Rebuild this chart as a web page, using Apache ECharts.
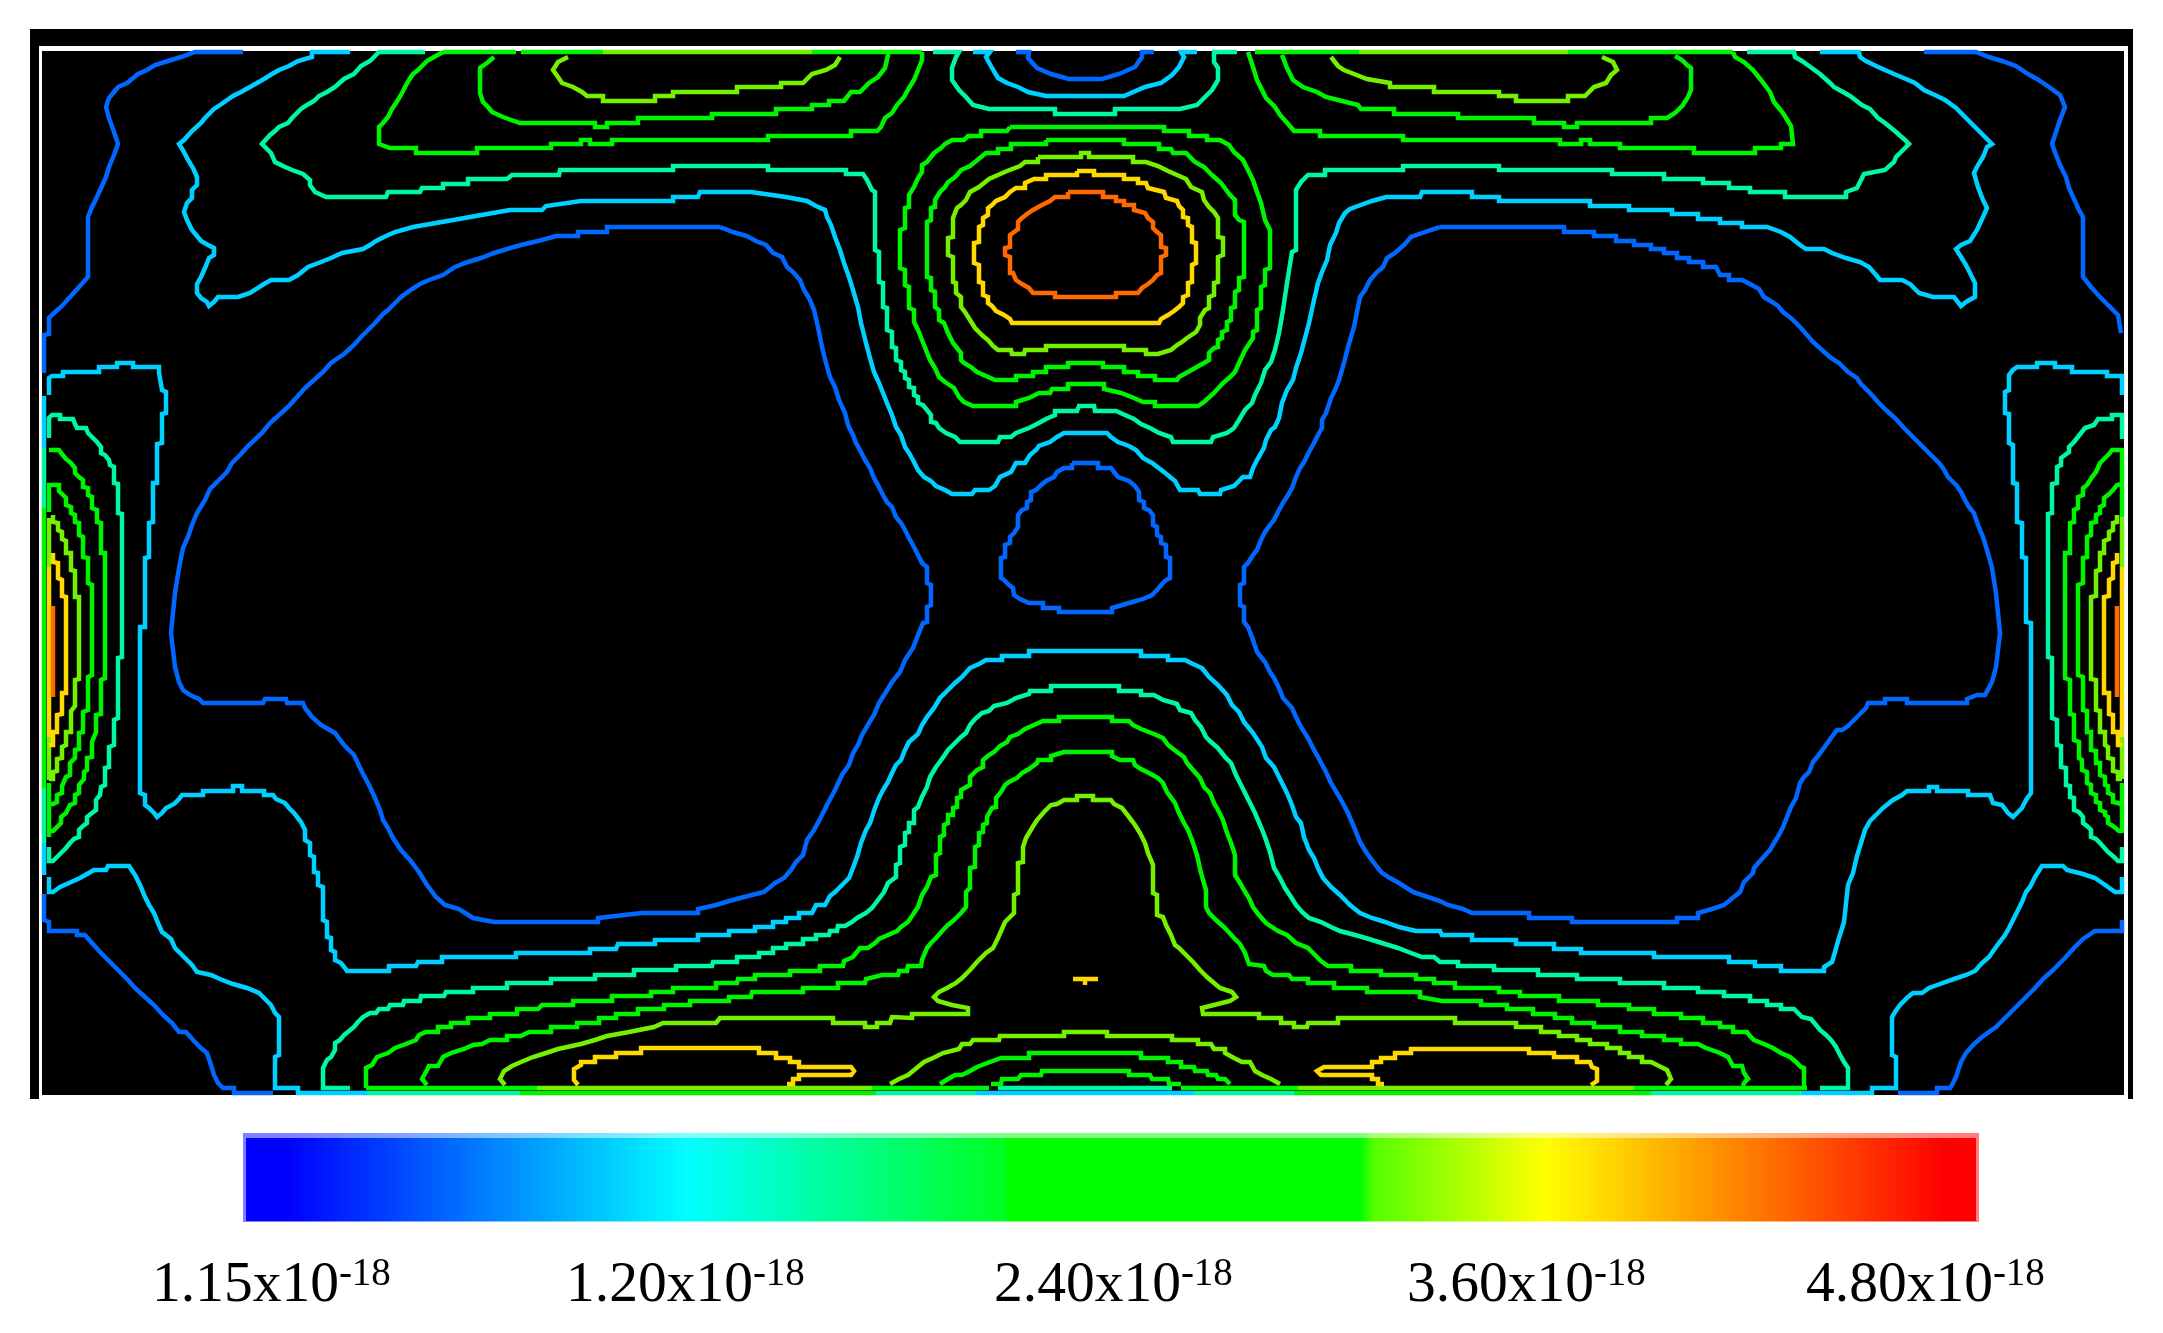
<!DOCTYPE html>
<html><head><meta charset="utf-8">
<style>html,body{margin:0;padding:0;background:#fff}#c{width:2163px;height:1333px}</style>
<script src="https://cdn.jsdelivr.net/npm/echarts@6/dist/echarts.min.js"></script>
</head><body><div id="c"></div>
<script>
const tickLabels = ['1.15','1.20','2.40','3.60','4.80'];
const tickExponent = '-18';
const fieldX = [42, 2124];
const fieldY = [51, 1095];

const levelColors = {blue:'#0068ff', cyan:'#00d0ff', teal:'#00f8a4', green:'#00f400', lime:'#74f000', yellow:'#ffd800', orange:'#ff6a00'};
const barStops = [[0,'#0000ff'],[0.024,'#0000ff'],[0.255,'#00ffff'],[0.439,'#00ff20'],[0.44,'#00ff00'],[0.644,'#00ff00'],[0.652,'#55ff00'],[0.751,'#ffff00'],[0.982,'#ff0000'],[1,'#ff0000']];

const blueContours = [
[[243,52],[195,52],[181,57],[168,61],[155,65],[147,70],[138,74],[127,83],[118,87],[114,92],[109,98],[106,107],[109,118],[114,132],[118,144],[114,155],[109,167],[106,177],[101,188],[96,199],[92,207],[88,217],[88,277],[79,287],[70,297],[62,306],[53,314],[49,318],[49,334],[44,335],[44,373]],
[[1924,52],[1976,52],[1989,57],[2002,61],[2016,66],[2028,74],[2037,79],[2049,87],[2060,95],[2065,107],[2060,120],[2056,132],[2052,144],[2056,155],[2061,167],[2066,177],[2069,188],[2074,199],[2079,210],[2083,217],[2083,277],[2091,287],[2100,297],[2108,305],[2118,315],[2121,333]],
[[1016,52],[1029,52],[1028,58],[1037,68],[1051,74],[1069,79],[1102,79],[1119,74],[1135,67],[1142,57],[1142,52],[1154,52]],
[[1072,463],[1098,463],[1098,468],[1111,468],[1114,472],[1118,477],[1129,481],[1135,486],[1139,492],[1139,500],[1144,502],[1144,508],[1149,510],[1153,515],[1153,525],[1157,527],[1157,535],[1161,537],[1161,543],[1166,545],[1166,557],[1170,558],[1170,578],[1166,580],[1161,585],[1157,590],[1152,595],[1143,599],[1129,603],[1112,608],[1112,612],[1059,612],[1059,608],[1043,608],[1043,603],[1029,603],[1020,599],[1014,595],[1013,588],[1009,585],[1004,580],[1001,578],[1001,558],[1005,557],[1005,545],[1010,543],[1010,537],[1014,533],[1018,527],[1018,515],[1022,510],[1027,508],[1027,502],[1031,500],[1031,492],[1036,490],[1040,486],[1046,481],[1054,477],[1057,472],[1064,468],[1072,468],[1072,463]],
[[720,227],[607,227],[607,232],[578,232],[578,236],[556,236],[538,241],[521,245],[507,249],[494,253],[481,258],[468,262],[455,267],[443,275],[429,280],[420,284],[412,289],[401,297],[396,302],[392,306],[388,310],[383,314],[375,323],[370,328],[366,332],[361,337],[354,345],[344,354],[338,358],[331,363],[323,372],[314,380],[305,388],[297,397],[288,407],[279,415],[270,423],[262,433],[248,446],[240,455],[232,463],[227,472],[218,481],[210,489],[205,500],[197,513],[192,525],[188,537],[183,548],[179,568],[175,593],[171,633],[175,667],[179,682],[183,690],[190,695],[199,699],[203,703],[263,703],[265,699],[286,699],[287,703],[303,703],[305,708],[312,717],[321,725],[335,733],[344,745],[354,755],[362,772],[370,787],[375,798],[380,810],[383,820],[388,828],[393,838],[401,850],[410,860],[419,872],[427,885],[436,897],[445,905],[459,909],[473,918],[494,922],[598,922],[598,918],[642,913],[698,913],[698,909],[716,905],[729,901],[748,896],[764,892],[775,883],[784,878],[791,870],[796,862],[803,855],[807,840],[814,830],[821,817],[828,803],[835,790],[842,775],[849,765],[853,753],[858,745],[862,735],[869,723],[874,715],[879,703],[886,692],[892,682],[900,672],[905,660],[913,648],[918,635],[923,623],[927,622],[927,607],[931,605],[931,585],[927,583],[927,567],[922,563],[918,555],[914,547],[909,538],[905,530],[901,523],[896,517],[892,507],[887,502],[883,495],[879,487],[874,478],[870,468],[865,460],[861,452],[856,443],[853,435],[848,425],[845,413],[839,400],[835,387],[830,377],[826,363],[822,347],[818,327],[814,310],[809,298],[804,290],[800,280],[793,272],[787,267],[782,257],[773,253],[766,245],[756,241],[747,236],[733,232],[720,227]],
[[1440,227],[1564,227],[1564,232],[1594,232],[1594,236],[1616,236],[1616,241],[1634,241],[1634,245],[1651,245],[1651,249],[1664,249],[1664,253],[1677,253],[1677,258],[1689,258],[1689,262],[1703,262],[1703,267],[1716,267],[1720,275],[1729,275],[1729,280],[1742,280],[1750,284],[1759,289],[1764,297],[1772,302],[1778,306],[1783,312],[1792,319],[1801,328],[1813,342],[1822,350],[1831,358],[1839,363],[1848,372],[1857,378],[1861,384],[1870,393],[1878,402],[1887,411],[1896,419],[1904,428],[1913,437],[1922,446],[1931,455],[1939,463],[1943,468],[1948,477],[1952,481],[1957,486],[1961,492],[1965,500],[1969,507],[1974,513],[1978,525],[1983,537],[1987,550],[1992,568],[1996,593],[2000,633],[1996,667],[1992,682],[1985,695],[1977,695],[1967,699],[1967,703],[1907,703],[1907,699],[1885,699],[1885,703],[1868,703],[1866,708],[1861,713],[1857,717],[1853,721],[1848,726],[1842,730],[1837,730],[1831,738],[1826,745],[1818,756],[1813,762],[1809,772],[1804,777],[1800,783],[1796,798],[1791,807],[1787,817],[1783,827],[1779,835],[1774,843],[1770,850],[1760,861],[1754,868],[1753,873],[1744,882],[1740,892],[1735,896],[1724,905],[1712,909],[1698,913],[1698,918],[1677,918],[1677,922],[1572,922],[1572,918],[1529,918],[1529,913],[1472,913],[1463,909],[1448,905],[1440,901],[1425,896],[1413,892],[1399,883],[1390,878],[1381,872],[1374,863],[1366,852],[1360,842],[1354,827],[1348,813],[1340,798],[1331,783],[1326,772],[1318,757],[1313,748],[1308,738],[1301,727],[1296,717],[1292,708],[1283,698],[1279,688],[1274,678],[1270,672],[1265,662],[1257,652],[1253,640],[1248,627],[1244,622],[1244,607],[1240,605],[1240,585],[1244,583],[1244,567],[1248,563],[1253,555],[1257,550],[1261,540],[1265,532],[1270,525],[1274,520],[1279,510],[1283,503],[1288,495],[1292,488],[1296,477],[1300,468],[1304,462],[1309,452],[1314,443],[1318,435],[1322,428],[1322,420],[1326,413],[1331,398],[1335,390],[1339,380],[1344,363],[1348,347],[1354,327],[1360,297],[1365,290],[1370,280],[1377,272],[1383,267],[1387,258],[1395,253],[1404,245],[1411,237],[1425,232],[1440,227]],
[[44,894],[44,920],[49,922],[49,931],[77,931],[77,935],[85,935],[92,943],[101,953],[110,962],[118,970],[128,980],[135,988],[145,997],[154,1005],[163,1015],[172,1023],[179,1032],[186,1032],[193,1040],[201,1048],[207,1053],[210,1062],[214,1075],[218,1083],[223,1088],[234,1088],[234,1093],[273,1093]],
[[2122,920],[2122,931],[2095,931],[2089,935],[2083,939],[2074,948],[2065,958],[2058,965],[2052,971],[2043,979],[2035,988],[2026,997],[2016,1007],[2005,1018],[1996,1027],[1989,1032],[1982,1037],[1974,1044],[1966,1053],[1961,1062],[1956,1077],[1952,1085],[1950,1088],[1937,1088],[1937,1093],[1898,1093]]
];

const cyanContours = [
[[350,52],[312,52],[312,57],[298,61],[289,66],[279,70],[272,74],[264,79],[250,87],[241,92],[233,96],[220,105],[214,109],[205,118],[201,123],[192,131],[184,140],[179,144],[184,152],[188,160],[193,168],[197,177],[197,185],[192,190],[192,198],[187,203],[184,212],[187,220],[192,230],[197,236],[201,241],[208,245],[214,248],[214,255],[209,258],[205,268],[201,277],[197,284],[197,293],[201,298],[207,302],[209,306],[214,302],[218,297],[238,297],[250,293],[264,284],[271,280],[289,280],[298,275],[308,267],[321,262],[331,258],[342,253],[363,249],[370,245],[376,241],[386,236],[395,232],[413,227],[436,223],[459,219],[487,214],[510,210],[542,210],[546,206],[581,201],[673,201],[673,197],[698,197],[700,192],[751,192],[751,192],[786,197],[807,201],[816,206],[825,210],[827,217],[831,225],[835,237],[840,250],[844,263],[849,277],[853,290],[858,307],[861,323],[866,343],[870,358],[874,372],[879,383],[883,393],[887,403],[892,415],[896,427],[901,435],[905,447],[909,453],[914,462],[918,470],[924,477],[931,481],[936,486],[945,490],[952,494],[972,494],[975,490],[989,490],[995,486],[1000,477],[1011,472],[1016,463],[1025,463],[1030,455],[1036,450],[1039,446],[1050,442],[1057,437],[1064,433],[1107,433],[1111,437],[1118,442],[1129,446],[1136,450],[1143,458],[1152,463],[1164,472],[1175,481],[1180,490],[1198,490],[1200,494],[1220,494],[1221,490],[1234,486],[1243,477],[1250,477],[1253,468],[1257,460],[1264,448],[1266,440],[1271,430],[1275,427],[1279,418],[1282,403],[1287,390],[1293,380],[1296,368],[1301,353],[1305,338],[1309,323],[1314,300],[1318,283],[1322,272],[1327,260],[1330,245],[1336,233],[1339,223],[1345,213],[1350,209],[1358,206],[1372,201],[1386,197],[1420,197],[1422,192],[1472,192],[1472,197],[1499,197],[1499,201],[1590,201],[1590,206],[1629,206],[1629,210],[1672,210],[1672,214],[1698,214],[1698,219],[1720,219],[1720,223],[1742,223],[1742,227],[1767,227],[1781,232],[1790,237],[1800,245],[1806,249],[1824,249],[1832,253],[1846,258],[1860,262],[1869,267],[1876,275],[1880,280],[1902,280],[1910,284],[1919,293],[1933,297],[1954,297],[1961,306],[1966,302],[1975,297],[1975,283],[1970,273],[1966,265],[1961,257],[1956,249],[1961,245],[1970,241],[1977,230],[1983,217],[1987,208],[1983,200],[1978,187],[1974,173],[1978,165],[1983,157],[1987,147],[1992,144],[1983,135],[1975,127],[1966,118],[1956,108],[1945,100],[1937,96],[1924,90],[1915,83],[1906,79],[1894,74],[1885,70],[1876,66],[1866,61],[1860,57],[1859,52],[1820,52]],
[[973,52],[990,52],[986,57],[992,68],[998,78],[1007,83],[1018,87],[1028,92],[1046,96],[1124,96],[1145,87],[1161,83],[1172,75],[1179,67],[1184,57],[1181,52],[1197,52]],
[[44,396],[44,448]],[[49,395],[49,378],[52,376],[63,376],[63,372],[99,372],[99,367],[117,367],[117,363],[133,363],[133,367],[159,367],[159,373],[162,390],[166,392],[166,413],[162,414],[162,443],[157,444],[157,483],[153,483],[153,522],[149,523],[149,557],[145,558],[145,627],[140,627],[140,793],[145,795],[145,805],[149,808],[154,813],[157,817],[162,813],[166,808],[174,804],[179,799],[182,795],[203,795],[203,791],[233,791],[233,786],[242,786],[242,791],[264,791],[264,795],[273,795],[276,799],[285,803],[289,808],[294,813],[301,822],[305,830],[305,840],[310,843],[310,855],[314,857],[314,872],[318,873],[318,885],[323,887],[323,920],[327,922],[327,937],[331,938],[331,950],[335,952],[335,960],[341,963],[345,968],[347,971],[389,971],[389,966],[416,966],[418,962],[442,962],[442,957],[516,957],[516,953],[590,953],[590,949],[616,949],[618,944],[655,944],[655,940],[698,940],[698,935],[729,935],[729,931],[755,931],[755,927],[773,927],[773,922],[786,922],[786,918],[799,918],[799,913],[812,913],[816,905],[825,905],[830,896],[835,892],[840,887],[849,878],[853,868],[857,857],[861,843],[866,830],[870,823],[875,808],[879,798],[883,790],[888,782],[892,773],[896,765],[901,760],[905,750],[909,742],[918,734],[922,725],[927,717],[934,708],[940,698],[948,690],[955,683],[962,677],[970,668],[979,664],[986,660],[1002,660],[1002,656],[1029,656],[1029,651],[1141,651],[1141,656],[1168,656],[1168,660],[1185,660],[1193,664],[1202,668],[1209,677],[1218,685],[1227,695],[1232,705],[1239,712],[1244,722],[1253,733],[1262,747],[1266,758],[1274,767],[1279,777],[1287,793],[1292,805],[1296,817],[1301,823],[1304,837],[1309,850],[1314,858],[1318,868],[1323,878],[1331,887],[1340,895],[1350,905],[1360,913],[1372,918],[1385,922],[1399,927],[1416,931],[1440,931],[1442,935],[1472,935],[1472,940],[1516,940],[1516,944],[1554,944],[1554,949],[1581,949],[1581,953],[1654,953],[1654,957],[1729,957],[1729,962],[1755,962],[1755,966],[1781,966],[1781,971],[1824,971],[1824,967],[1832,962],[1835,952],[1839,938],[1844,922],[1848,885],[1853,873],[1857,856],[1861,843],[1865,830],[1870,821],[1874,817],[1878,813],[1883,808],[1893,800],[1902,795],[1907,791],[1929,791],[1929,787],[1937,787],[1937,791],[1968,791],[1968,795],[1990,795],[1993,803],[2002,805],[2008,813],[2013,817],[2017,813],[2022,808],[2026,800],[2031,793],[2031,623],[2026,622],[2026,558],[2022,557],[2022,523],[2017,522],[2017,484],[2013,483],[2013,445],[2009,443],[2009,414],[2005,413],[2005,392],[2009,390],[2009,375],[2013,370],[2017,367],[2037,367],[2037,363],[2055,363],[2055,367],[2072,367],[2072,372],[2107,372],[2107,376],[2122,376],[2122,395]],
[[44,843],[44,875]],
[[49,877],[49,892],[53,892],[60,887],[69,883],[80,878],[94,870],[106,870],[108,866],[129,866],[135,875],[140,885],[145,897],[149,905],[154,913],[158,923],[162,932],[171,939],[175,948],[184,957],[192,965],[197,972],[211,975],[220,979],[233,984],[247,988],[259,993],[266,1000],[271,1005],[275,1013],[279,1017],[279,1055],[275,1057],[275,1088],[298,1088],[298,1093],[367,1093]],
[[2122,877],[2122,892],[2115,892],[2108,887],[2095,878],[2083,874],[2067,870],[2063,866],[2042,866],[2035,877],[2030,887],[2026,892],[2022,902],[2017,912],[2013,920],[2008,930],[2005,935],[1996,947],[1989,957],[1982,963],[1975,971],[1966,975],[1954,979],[1940,984],[1929,988],[1922,993],[1913,993],[1908,997],[1900,1005],[1895,1012],[1892,1017],[1892,1055],[1896,1057],[1896,1088],[1872,1088],[1872,1093],[1802,1093]],
[[976,1093],[1194,1093]]
];

const tealContours = [
[[425,52],[386,52],[379,52],[374,57],[370,61],[361,66],[354,74],[344,79],[335,87],[327,92],[319,96],[314,101],[307,105],[301,109],[296,114],[292,118],[288,123],[279,127],[275,131],[270,135],[262,144],[266,148],[271,153],[275,162],[283,166],[292,170],[303,174],[310,180],[310,185],[315,192],[326,197],[386,197],[388,192],[420,192],[422,188],[443,188],[443,184],[468,184],[468,179],[507,179],[512,175],[559,175],[560,170],[673,170],[673,166],[768,166],[768,170],[846,170],[846,174],[863,174],[867,180],[872,190],[875,192],[875,250],[879,252],[879,282],[883,283],[883,307],[887,308],[887,330],[892,332],[892,347],[896,348],[896,360],[901,362],[901,370],[905,372],[905,378],[909,380],[909,387],[914,388],[914,395],[918,397],[918,403],[923,405],[927,410],[931,415],[931,422],[936,423],[939,428],[946,433],[955,437],[960,442],[998,442],[1000,437],[1011,437],[1016,433],[1029,428],[1037,424],[1046,419],[1055,415],[1055,411],[1077,411],[1079,406],[1094,406],[1095,411],[1116,411],[1125,415],[1134,419],[1141,424],[1150,428],[1159,433],[1171,437],[1173,442],[1211,442],[1213,437],[1227,433],[1234,428],[1239,420],[1245,410],[1252,403],[1255,395],[1261,383],[1265,370],[1271,362],[1275,350],[1279,333],[1283,310],[1287,283],[1292,252],[1296,250],[1296,190],[1301,182],[1308,175],[1325,175],[1325,170],[1403,170],[1403,166],[1499,166],[1499,170],[1612,170],[1612,174],[1664,174],[1664,179],[1703,179],[1703,183],[1729,183],[1729,188],[1750,188],[1750,192],[1785,192],[1785,197],[1846,197],[1846,192],[1857,188],[1862,178],[1864,174],[1885,170],[1894,162],[1896,157],[1905,148],[1909,144],[1905,140],[1896,132],[1885,123],[1878,118],[1870,109],[1862,105],[1850,96],[1843,92],[1834,87],[1830,83],[1820,74],[1809,66],[1802,61],[1795,57],[1794,52],[1747,52]],
[[933,52],[959,52],[956,57],[952,68],[952,80],[959,90],[966,97],[973,105],[989,109],[1055,109],[1055,114],[1115,114],[1115,109],[1180,109],[1197,105],[1204,98],[1212,90],[1218,80],[1218,68],[1214,62],[1214,52],[1237,52]],
[[44,448],[44,508]],[[44,788],[44,843]],
[[49,438],[49,418],[52,415],[60,415],[60,419],[73,419],[75,424],[77,428],[86,428],[88,433],[92,437],[97,442],[101,447],[101,453],[105,455],[109,460],[110,465],[114,467],[114,483],[118,484],[118,513],[122,514],[122,657],[118,658],[118,718],[114,720],[114,745],[109,747],[109,767],[105,768],[105,785],[101,787],[100,795],[96,800],[96,810],[92,813],[87,817],[87,823],[83,826],[79,830],[79,837],[74,839],[70,843],[66,848],[61,853],[57,857],[53,861],[49,861],[49,847]],
[[2122,439],[2122,415],[2112,415],[2112,419],[2098,419],[2094,425],[2085,428],[2081,433],[2074,442],[2069,447],[2069,452],[2065,455],[2061,458],[2061,465],[2057,467],[2057,483],[2052,484],[2052,513],[2048,514],[2048,657],[2052,658],[2052,718],[2057,720],[2057,745],[2061,746],[2061,767],[2066,768],[2066,785],[2070,786],[2070,797],[2074,798],[2074,810],[2079,812],[2083,817],[2083,823],[2087,826],[2091,830],[2091,837],[2096,839],[2100,843],[2108,852],[2114,857],[2118,861],[2122,861],[2122,847]],
[[350,1088],[323,1088],[323,1068],[327,1060],[331,1057],[335,1050],[335,1043],[340,1040],[344,1035],[349,1031],[354,1027],[358,1022],[363,1017],[370,1013],[376,1013],[379,1009],[388,1009],[390,1005],[403,1005],[404,1001],[420,1001],[421,996],[438,996],[444,996],[446,992],[473,992],[473,988],[507,988],[507,983],[551,983],[551,979],[595,979],[595,975],[634,975],[634,970],[676,970],[676,966],[712,966],[713,962],[737,962],[737,957],[759,957],[759,953],[773,953],[773,948],[786,948],[786,944],[803,944],[803,939],[816,939],[816,935],[829,935],[830,931],[837,931],[838,926],[845,926],[852,922],[857,918],[866,913],[872,908],[878,900],[884,892],[888,883],[896,877],[896,865],[900,863],[900,847],[905,845],[905,833],[909,832],[909,823],[914,823],[914,810],[918,807],[922,797],[927,787],[930,777],[936,767],[939,763],[944,756],[948,750],[952,746],[956,742],[961,737],[966,733],[970,725],[975,719],[982,713],[989,711],[994,706],[1007,703],[1016,698],[1029,694],[1030,691],[1051,691],[1051,686],[1119,686],[1119,691],[1141,691],[1141,695],[1154,695],[1163,700],[1177,704],[1180,710],[1191,713],[1195,720],[1201,727],[1206,737],[1211,742],[1218,748],[1225,757],[1231,763],[1236,775],[1240,783],[1245,793],[1250,803],[1255,813],[1261,827],[1265,837],[1270,852],[1274,868],[1280,878],[1285,888],[1291,897],[1296,905],[1302,912],[1309,918],[1321,922],[1331,927],[1340,931],[1355,935],[1369,939],[1385,944],[1398,948],[1411,953],[1422,957],[1434,957],[1440,962],[1458,962],[1458,966],[1494,966],[1494,970],[1538,970],[1538,975],[1577,975],[1577,979],[1620,979],[1620,983],[1664,983],[1664,988],[1698,988],[1698,992],[1724,992],[1724,996],[1750,996],[1750,1001],[1767,1001],[1767,1005],[1781,1005],[1781,1009],[1794,1009],[1802,1017],[1811,1019],[1816,1025],[1820,1030],[1826,1035],[1831,1040],[1836,1047],[1839,1053],[1844,1062],[1848,1068],[1848,1088],[1820,1088]],
[[367,1093],[520,1093]],[[876,1093],[976,1093]],[[1194,1093],[1294,1093]],[[1651,1093],[1802,1093]],[[998,1088],[1172,1088]]
];

const greenContours = [
[[516,52],[443,52]],[[521,52],[603,52]],[[812,52],[922,52]],[[1255,52],[1359,52]],[[1568,52],[1733,52]],
[[443,52],[434,57],[427,61],[418,70],[413,74],[409,80],[405,87],[401,95],[396,103],[392,109],[388,117],[383,123],[379,127],[379,144],[390,148],[416,148],[416,153],[477,153],[477,148],[551,148],[551,144],[581,144],[581,140],[590,140],[590,144],[612,144],[612,140],[768,140],[768,136],[851,136],[851,131],[877,131],[881,127],[885,118],[892,113],[897,105],[904,97],[909,88],[914,80],[918,70],[922,60],[922,52]],
[[1248,52],[1253,67],[1257,80],[1262,90],[1266,98],[1275,107],[1280,115],[1289,125],[1294,131],[1320,131],[1320,136],[1403,136],[1403,140],[1560,140],[1560,144],[1581,144],[1581,140],[1590,140],[1590,144],[1620,144],[1620,148],[1694,148],[1694,153],[1755,153],[1755,148],[1781,148],[1781,144],[1793,144],[1791,126],[1783,113],[1774,102],[1770,92],[1761,80],[1753,70],[1744,62],[1735,57],[1733,52]],
[[494,57],[487,63],[480,68],[480,93],[483,102],[488,107],[492,112],[503,117],[520,123],[595,123],[595,127],[607,127],[607,123],[638,123],[638,118],[712,118],[712,114],[776,114],[776,109],[812,109],[812,105],[829,105],[829,101],[844,101],[851,92],[860,92],[869,83],[878,77],[885,68],[888,55],[888,52]],
[[1282,55],[1287,68],[1293,80],[1303,87],[1317,92],[1326,97],[1342,101],[1358,105],[1361,109],[1394,109],[1394,114],[1458,114],[1458,118],[1534,118],[1534,123],[1564,123],[1564,127],[1577,127],[1577,123],[1651,123],[1651,118],[1667,118],[1675,113],[1683,105],[1688,97],[1691,90],[1691,68],[1687,65],[1682,60],[1675,56]],
[[1010,127],[1164,127],[1164,131],[1189,131],[1189,136],[1207,136],[1207,140],[1220,140],[1229,145],[1234,152],[1243,160],[1248,170],[1253,180],[1257,192],[1261,203],[1265,220],[1270,230],[1270,268],[1265,270],[1265,285],[1261,287],[1261,308],[1257,310],[1257,330],[1253,332],[1253,338],[1245,350],[1239,363],[1235,372],[1230,377],[1222,384],[1214,393],[1204,402],[1198,406],[1155,406],[1155,402],[1143,402],[1134,398],[1121,393],[1104,389],[1104,384],[1068,384],[1068,389],[1052,389],[1050,393],[1039,393],[1029,398],[1016,402],[1016,406],[973,406],[964,402],[959,397],[954,388],[945,382],[939,377],[935,368],[930,360],[926,350],[922,340],[918,330],[914,322],[914,310],[909,308],[909,287],[905,285],[905,270],[900,268],[900,230],[905,228],[905,208],[909,207],[909,195],[914,187],[918,178],[922,172],[922,165],[927,162],[934,153],[941,148],[945,144],[952,140],[964,140],[968,136],[981,136],[981,131],[1007,131],[1010,127]],
[[1046,140],[1124,140],[1124,144],[1159,144],[1159,149],[1171,149],[1173,153],[1186,153],[1195,162],[1204,167],[1212,175],[1221,183],[1230,195],[1235,200],[1235,215],[1239,220],[1244,222],[1244,277],[1239,278],[1239,290],[1235,292],[1235,307],[1231,308],[1231,320],[1227,322],[1227,330],[1222,332],[1222,338],[1218,340],[1218,347],[1214,348],[1209,353],[1209,360],[1204,363],[1195,368],[1188,372],[1179,377],[1177,380],[1155,380],[1155,376],[1138,376],[1138,372],[1124,372],[1124,367],[1103,367],[1103,363],[1068,363],[1068,367],[1046,367],[1046,372],[1033,372],[1033,376],[1016,376],[1016,380],[995,380],[986,376],[977,372],[971,367],[964,363],[961,360],[961,353],[953,343],[948,333],[944,323],[939,320],[939,310],[935,307],[935,292],[931,290],[931,278],[927,277],[927,222],[931,220],[931,208],[935,207],[935,200],[940,192],[945,187],[948,182],[954,178],[957,175],[961,170],[970,166],[975,162],[981,157],[986,153],[998,153],[998,149],[1011,149],[1011,144],[1046,144],[1046,140]],
[[44,508],[44,788]],
[[49,450],[59,450],[62,454],[66,459],[71,463],[75,468],[75,473],[79,477],[83,480],[83,487],[88,488],[88,495],[92,497],[92,508],[97,510],[97,522],[101,523],[101,553],[105,553],[105,678],[101,680],[101,714],[96,715],[96,732],[92,742],[92,757],[87,758],[87,770],[84,772],[84,779],[79,785],[79,793],[75,795],[75,803],[70,805],[66,813],[61,817],[61,823],[53,831],[49,831]],
[[49,512],[49,485],[59,485],[59,491],[62,494],[66,498],[66,505],[71,507],[71,513],[75,515],[75,522],[79,523],[79,535],[83,537],[83,557],[88,558],[88,583],[92,585],[92,675],[88,677],[88,710],[83,712],[83,732],[79,733],[79,749],[75,750],[75,758],[70,763],[70,775],[66,777],[62,786],[62,793],[57,795],[57,802],[53,804],[49,804]],
[[49,783],[49,837]],
[[2122,448],[2122,517]],[[2122,783],[2122,833]],
[[2122,450],[2112,450],[2109,454],[2104,459],[2100,463],[2096,472],[2092,477],[2087,485],[2083,488],[2083,495],[2078,497],[2078,508],[2074,510],[2074,522],[2070,523],[2070,553],[2065,553],[2065,678],[2070,680],[2070,714],[2074,715],[2074,740],[2079,742],[2079,758],[2082,760],[2082,770],[2087,772],[2087,783],[2091,785],[2091,793],[2096,795],[2096,802],[2100,803],[2100,810],[2105,812],[2105,815],[2108,817],[2108,823],[2113,826],[2119,831],[2122,831]],
[[2122,484],[2117,485],[2113,490],[2109,494],[2104,498],[2104,505],[2100,507],[2100,513],[2096,515],[2096,522],[2091,523],[2091,535],[2087,537],[2087,557],[2083,558],[2083,583],[2078,585],[2078,675],[2083,677],[2083,710],[2087,711],[2087,732],[2091,732],[2091,750],[2096,751],[2096,763],[2100,763],[2100,775],[2105,777],[2105,785],[2108,786],[2108,793],[2113,795],[2113,802],[2118,803],[2122,805]],
[[366,1088],[366,1068],[372,1065],[377,1057],[388,1053],[395,1048],[406,1044],[416,1040],[419,1035],[426,1032],[438,1032],[438,1027],[451,1027],[451,1023],[468,1023],[468,1018],[490,1018],[490,1014],[517,1014],[517,1009],[538,1009],[542,1005],[573,1005],[573,1001],[612,1001],[612,996],[651,996],[651,992],[673,992],[673,988],[716,988],[716,983],[737,983],[738,979],[755,979],[755,975],[790,975],[790,971],[820,971],[820,966],[843,966],[844,961],[853,957],[860,948],[868,948],[875,943],[879,939],[888,935],[897,931],[901,927],[908,922],[914,913],[918,907],[922,895],[927,887],[931,877],[936,875],[936,855],[940,853],[940,837],[944,835],[944,825],[948,823],[948,815],[953,815],[953,808],[957,807],[957,798],[961,797],[961,790],[970,785],[970,777],[977,770],[983,767],[983,760],[989,755],[994,752],[1000,746],[1007,742],[1010,737],[1018,734],[1025,729],[1034,725],[1043,721],[1059,721],[1059,717],[1112,717],[1112,721],[1129,721],[1133,725],[1141,729],[1154,734],[1163,738],[1168,745],[1177,752],[1184,757],[1187,763],[1193,770],[1200,778],[1204,787],[1210,793],[1214,803],[1218,810],[1223,820],[1226,830],[1231,843],[1235,855],[1235,875],[1240,883],[1244,890],[1249,898],[1253,907],[1259,915],[1266,923],[1278,931],[1287,935],[1296,943],[1308,948],[1315,955],[1321,961],[1328,966],[1351,966],[1351,971],[1381,971],[1381,975],[1416,975],[1416,979],[1434,979],[1434,983],[1455,983],[1455,988],[1499,988],[1499,992],[1520,992],[1520,996],[1559,996],[1559,1001],[1598,1001],[1598,1005],[1629,1005],[1629,1009],[1654,1009],[1654,1014],[1681,1014],[1681,1018],[1703,1018],[1703,1023],[1720,1023],[1720,1027],[1733,1027],[1733,1032],[1747,1032],[1750,1036],[1754,1040],[1764,1044],[1773,1048],[1781,1053],[1790,1057],[1796,1062],[1801,1067],[1804,1068],[1804,1088]],
[[427,1085],[422,1079],[427,1070],[429,1066],[438,1066],[443,1057],[451,1053],[464,1049],[473,1045],[482,1044],[490,1040],[507,1040],[507,1036],[521,1036],[529,1032],[551,1032],[551,1027],[577,1027],[577,1023],[599,1023],[599,1018],[616,1018],[616,1014],[638,1014],[638,1009],[664,1009],[664,1005],[690,1005],[690,1001],[729,1001],[729,997],[751,997],[752,992],[803,992],[803,988],[838,988],[838,983],[865,983],[866,979],[882,975],[898,975],[899,971],[907,971],[908,966],[921,966],[922,960],[927,948],[931,943],[936,938],[943,930],[948,925],[954,920],[961,913],[966,907],[966,892],[970,888],[970,868],[975,867],[975,847],[979,845],[979,833],[983,832],[983,825],[987,823],[987,817],[992,808],[996,807],[996,798],[1001,792],[1005,785],[1009,782],[1017,778],[1022,773],[1029,769],[1037,763],[1038,760],[1051,760],[1051,756],[1064,752],[1112,752],[1112,756],[1120,760],[1133,760],[1135,765],[1141,769],[1149,773],[1158,778],[1163,783],[1167,792],[1175,803],[1179,813],[1184,823],[1188,830],[1192,840],[1197,855],[1201,873],[1206,890],[1206,907],[1209,913],[1216,920],[1225,928],[1234,938],[1240,944],[1245,953],[1249,964],[1264,966],[1266,971],[1273,975],[1289,975],[1292,979],[1308,979],[1308,983],[1334,983],[1334,988],[1367,988],[1367,992],[1420,992],[1420,997],[1442,1001],[1481,1001],[1481,1005],[1507,1005],[1507,1009],[1533,1009],[1533,1014],[1555,1014],[1555,1018],[1572,1018],[1572,1023],[1594,1023],[1594,1027],[1620,1027],[1620,1032],[1642,1032],[1642,1036],[1664,1036],[1664,1040],[1681,1040],[1681,1044],[1698,1044],[1706,1048],[1720,1053],[1728,1057],[1733,1066],[1742,1066],[1744,1073],[1748,1079],[1744,1083],[1743,1086]],
[[940,1084],[948,1079],[955,1075],[962,1075],[970,1071],[977,1067],[990,1062],[1001,1058],[1029,1058],[1029,1053],[1141,1053],[1141,1058],[1168,1058],[1168,1062],[1181,1062],[1181,1067],[1194,1067],[1195,1071],[1207,1071],[1208,1075],[1216,1075],[1218,1079],[1225,1079],[1230,1084]],
[[991,1084],[1001,1084],[1002,1079],[1018,1079],[1021,1075],[1041,1075],[1042,1071],[1129,1071],[1129,1075],[1150,1075],[1152,1079],[1168,1079],[1169,1084],[1181,1084]],
[[366,1088],[537,1088]],[[872,1088],[989,1088]],[[1181,1088],[1298,1088]],[[1634,1088],[1807,1088]],
[[520,1093],[876,1093]],[[1294,1093],[1651,1093]]
];

const limeContours = [
[[603,52],[812,52]],[[1359,52],[1568,52]],
[[568,57],[558,62],[553,70],[558,77],[562,83],[573,87],[582,92],[587,96],[603,96],[603,101],[655,101],[655,96],[673,96],[673,92],[737,92],[737,87],[781,87],[781,83],[803,83],[812,74],[826,70],[835,65],[840,57]],
[[1331,57],[1338,66],[1344,70],[1354,74],[1367,79],[1390,83],[1390,87],[1434,87],[1434,92],[1499,92],[1499,96],[1516,96],[1516,101],[1568,101],[1568,96],[1585,96],[1594,87],[1606,83],[1611,75],[1617,70],[1613,62],[1602,57]],
[[1038,157],[1081,157],[1081,153],[1089,153],[1089,157],[1133,157],[1133,162],[1146,162],[1158,166],[1168,171],[1177,175],[1186,179],[1191,187],[1202,192],[1204,200],[1209,207],[1214,212],[1218,218],[1218,237],[1223,238],[1223,255],[1218,257],[1218,282],[1214,283],[1214,295],[1209,297],[1209,308],[1205,310],[1200,318],[1200,325],[1196,332],[1187,338],[1182,342],[1177,345],[1171,350],[1158,354],[1146,354],[1146,350],[1124,350],[1124,346],[1046,346],[1046,350],[1025,350],[1024,354],[1012,354],[1011,350],[998,350],[993,346],[988,340],[983,336],[975,328],[970,320],[965,312],[961,307],[961,297],[956,293],[956,283],[953,282],[953,257],[948,255],[948,238],[953,237],[953,218],[957,208],[961,205],[966,200],[970,192],[979,187],[984,183],[989,179],[998,175],[1007,171],[1020,166],[1025,162],[1038,162],[1038,157]],
[[53,515],[53,522],[58,523],[58,530],[62,532],[62,539],[66,541],[66,553],[71,553],[71,570],[75,571],[75,597],[79,597],[79,679],[75,680],[75,706],[71,711],[71,732],[66,732],[66,745],[62,747],[62,758],[57,759],[57,771],[53,772],[53,779],[49,779]],
[[49,518],[49,567]],[[49,737],[49,780]],[[2122,517],[2122,567]],[[2122,737],[2122,779]],
[[2117,515],[2117,522],[2113,523],[2113,530],[2109,532],[2109,539],[2104,541],[2104,553],[2100,553],[2100,570],[2096,571],[2096,596],[2091,597],[2091,679],[2096,680],[2096,710],[2100,711],[2100,732],[2105,732],[2105,745],[2108,747],[2108,758],[2113,759],[2113,771],[2118,772],[2118,779],[2122,779]],
[[505,1085],[500,1079],[504,1071],[512,1066],[521,1062],[533,1057],[546,1053],[558,1049],[581,1044],[595,1040],[607,1036],[629,1032],[654,1027],[663,1023],[716,1023],[720,1018],[833,1018],[833,1023],[865,1023],[865,1027],[877,1027],[877,1023],[890,1023],[892,1017],[912,1018],[912,1014],[968,1014],[968,1008],[952,1005],[938,1001],[934,997],[939,992],[947,988],[956,983],[962,978],[970,970],[977,962],[986,953],[993,948],[998,938],[1005,922],[1014,913],[1014,895],[1018,893],[1018,863],[1023,862],[1023,847],[1026,838],[1032,828],[1037,820],[1044,812],[1051,805],[1057,804],[1064,800],[1077,800],[1077,796],[1093,796],[1093,800],[1111,800],[1114,804],[1122,808],[1129,817],[1135,825],[1140,833],[1145,843],[1148,853],[1153,865],[1153,893],[1157,895],[1157,915],[1163,917],[1166,925],[1171,935],[1175,945],[1179,948],[1186,955],[1193,962],[1200,970],[1207,977],[1214,983],[1220,988],[1232,992],[1236,997],[1230,1001],[1214,1005],[1202,1008],[1203,1014],[1259,1014],[1259,1018],[1281,1018],[1281,1023],[1294,1023],[1294,1027],[1307,1027],[1308,1023],[1338,1023],[1338,1018],[1455,1018],[1455,1023],[1516,1023],[1516,1027],[1541,1027],[1541,1032],[1559,1032],[1559,1036],[1577,1036],[1577,1040],[1590,1040],[1590,1044],[1607,1044],[1607,1048],[1620,1048],[1620,1053],[1629,1053],[1629,1057],[1642,1057],[1642,1062],[1651,1062],[1659,1066],[1667,1070],[1671,1079],[1666,1085]],
[[890,1084],[899,1079],[908,1075],[913,1071],[924,1062],[933,1058],[943,1053],[959,1049],[962,1044],[970,1044],[973,1040],[999,1040],[1000,1036],[1064,1036],[1064,1032],[1107,1032],[1107,1036],[1172,1036],[1172,1040],[1198,1040],[1198,1044],[1211,1044],[1214,1049],[1225,1049],[1225,1053],[1234,1058],[1242,1062],[1250,1062],[1255,1071],[1262,1075],[1271,1079],[1280,1084]],
[[537,1088],[872,1088]],[[1298,1088],[1634,1088]]
];

const yellowContours = [
[[1077,171],[1094,171],[1094,175],[1124,175],[1124,179],[1138,179],[1138,183],[1146,183],[1148,188],[1164,192],[1166,198],[1177,201],[1179,206],[1183,210],[1183,217],[1188,218],[1188,225],[1192,227],[1192,242],[1196,243],[1196,263],[1192,265],[1192,282],[1188,283],[1188,295],[1183,297],[1183,303],[1179,307],[1174,311],[1168,315],[1161,319],[1159,323],[1012,323],[1010,319],[1004,315],[996,311],[992,306],[988,303],[988,297],[983,295],[983,283],[979,282],[979,265],[974,263],[974,243],[979,242],[979,227],[983,225],[983,218],[988,215],[988,208],[992,205],[996,201],[1005,197],[1010,192],[1016,188],[1025,188],[1025,183],[1034,179],[1046,179],[1046,175],[1077,175],[1077,171]],
[[49,567],[49,737]],[[2122,567],[2122,737]],
[[53,553],[53,562],[58,563],[58,578],[62,580],[62,596],[66,597],[66,693],[62,693],[62,714],[57,715],[57,732],[53,732],[53,745],[49,745]],
[[2117,553],[2117,562],[2113,563],[2113,578],[2109,580],[2109,596],[2104,597],[2104,693],[2109,693],[2109,714],[2113,715],[2113,732],[2118,732],[2118,745],[2122,745]],
[[578,1085],[574,1080],[574,1069],[581,1065],[581,1062],[595,1062],[595,1057],[616,1057],[616,1053],[641,1053],[641,1048],[759,1048],[759,1053],[776,1053],[776,1058],[790,1058],[790,1062],[799,1062],[799,1067],[851,1067],[854,1071],[851,1075],[799,1075],[799,1079],[793,1079],[793,1084],[787,1084]],
[[1591,1085],[1592,1083],[1597,1081],[1597,1069],[1592,1067],[1590,1062],[1577,1062],[1577,1057],[1554,1057],[1554,1053],[1529,1053],[1529,1049],[1411,1049],[1411,1053],[1395,1053],[1395,1058],[1381,1058],[1381,1062],[1372,1062],[1372,1067],[1324,1067],[1317,1071],[1321,1075],[1372,1075],[1372,1079],[1378,1079],[1378,1084],[1384,1084]],
[[1073,979],[1098,979]],[[1085,979],[1085,985]]
];

const orangeContours = [
[[1068,192],[1103,192],[1103,197],[1116,197],[1116,201],[1124,201],[1124,205],[1134,205],[1134,210],[1145,213],[1148,218],[1153,222],[1153,228],[1157,232],[1161,235],[1161,247],[1166,248],[1166,255],[1161,257],[1161,273],[1157,275],[1153,280],[1148,284],[1142,288],[1138,293],[1116,293],[1116,297],[1055,297],[1055,293],[1033,293],[1029,288],[1022,284],[1016,280],[1013,273],[1010,273],[1010,257],[1005,255],[1005,248],[1010,247],[1010,235],[1018,229],[1018,222],[1022,218],[1027,214],[1033,210],[1042,205],[1050,201],[1055,197],[1068,197],[1068,192]],
[[53,606],[53,697]],[[2117,606],[2117,697]]
];

const groups = [
  ['blue', blueContours],['cyan', cyanContours],['teal', tealContours],['green', greenContours],
  ['lime', limeContours],['yellow', yellowContours],['orange', orangeContours]
];
const series = [];
groups.forEach(([name, lines]) => lines.forEach(pts => series.push({
  type:'line', data:pts, symbol:'none', smooth:false, silent:true, animation:false, clip:true,
  lineStyle:{color:levelColors[name], width:4.5, cap:'butt', join:'miter'}
})));

const tickStarts = [152, 566, 994, 1407, 1806];
const graphic = [
  {type:'rect', shape:{x:30,y:29,width:2103,height:17}, style:{fill:'#000'}},
  {type:'rect', shape:{x:30,y:29,width:9,height:1070}, style:{fill:'#000'}},
  {type:'rect', shape:{x:2128,y:29,width:5,height:1070}, style:{fill:'#000'}},
  {type:'rect', shape:{x:243,y:1133,width:1736,height:89}, style:{fill:new echarts.graphic.LinearGradient(0,0,1,0,barStops.map(s=>({offset:s[0],color:s[1]}))), opacity:0.5}},
  {type:'rect', shape:{x:246,y:1138,width:1730,height:83}, style:{fill:new echarts.graphic.LinearGradient(0,0,1,0,barStops.map(s=>({offset:s[0],color:s[1]})))}}
];
tickLabels.forEach((t,i)=>graphic.push({
  type:'text', x:tickStarts[i], y:1315,
  style:{
    text:'{b|'+t+'x10}{s|'+tickExponent+'}', align:'left', verticalAlign:'bottom', fill:'#000',
    rich:{
      b:{fontFamily:'Liberation Serif', fontSize:57.5, lineHeight:60, fill:'#000', verticalAlign:'bottom'},
      s:{fontFamily:'Liberation Serif', fontSize:39, lineHeight:60, fill:'#000', verticalAlign:'top'}
    }
  }
}));

const chart = echarts.init(document.getElementById('c'), null, {renderer:'canvas', width:2163, height:1333});
chart.setOption({
  backgroundColor:'#fff',
  animation:false,
  grid:{show:true, left:fieldX[0], top:fieldY[0], width:fieldX[1]-fieldX[0], height:fieldY[1]-fieldY[0], backgroundColor:'#000', borderWidth:0},
  xAxis:{type:'value', min:fieldX[0], max:fieldX[1], show:false},
  yAxis:{type:'value', min:fieldY[0], max:fieldY[1], inverse:true, show:false},
  series, graphic
});
</script></body></html>
